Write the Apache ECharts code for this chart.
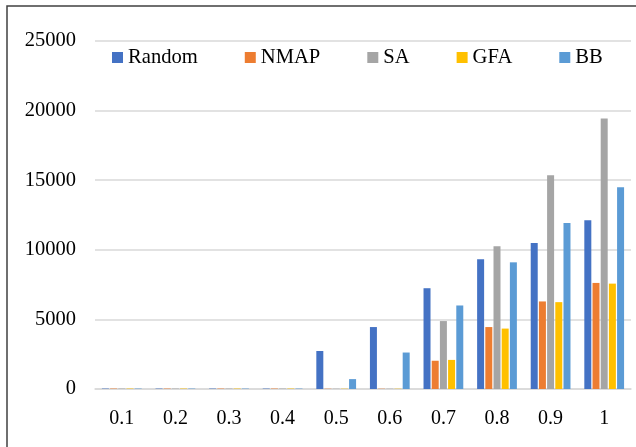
<!DOCTYPE html>
<html>
<head>
<meta charset="utf-8">
<script src="https://cdn.jsdelivr.net/npm/echarts@6/dist/echarts.min.js"></script>
<style>html,body{margin:0;padding:0;background:#fff;}#c{width:636px;height:447px;}</style>
</head>
<body>
<div id="c"></div>
<script>
var categories = ['0.1','0.2','0.3','0.4','0.5','0.6','0.7','0.8','0.9','1'];
var seriesNames = ['Random','NMAP','SA','GFA','BB'];
var randomVals = [30, 30, 30, 30, 2730, 4450, 7240, 9330, 10480, 12120];
var nmapVals   = [30, 30, 30, 30, 20, 20, 2030, 4450, 6290, 7620];
var saVals     = [30, 30, 30, 30, 20, 20, 4880, 10260, 15360, 19430];
var gfaVals    = [30, 30, 30, 30, 20, 20, 2090, 4340, 6240, 7570];
var bbVals     = [30, 30, 30, 30, 710, 2620, 6000, 9100, 11930, 14500];
var colors = ['#4472C4','#ED7D31','#A5A5A5','#FFC000','#5B9BD5'];
var yTicks = {min: 0, max: 25000, interval: 5000};

var font = "'Liberation Serif','Times New Roman',serif";
var allVals = [randomVals, nmapVals, saVals, gfaVals, bbVals];
var chart = echarts.init(document.getElementById('c'), null, {renderer: 'canvas'});
chart.setOption({
  animation: false,
  backgroundColor: '#fff',
  color: colors,
  textStyle: {fontFamily: font},
  graphic: [{
    type: 'polyline',
    shape: {points: [[7, 447], [7, 6], [636, 6]]},
    style: {stroke: '#404040', lineWidth: 1.5, fill: null}
  }],
  legend: {
    data: seriesNames,
    left: 107,
    top: 42,
    itemWidth: 11,
    itemHeight: 11,
    itemGap: 47,
    icon: 'rect',
    textStyle: {fontFamily: font, fontSize: 20.6, color: '#000'}
  },
  grid: {left: 95, right: 5, top: 41, bottom: 58},
  xAxis: {
    type: 'category',
    data: categories,
    axisLine: {lineStyle: {color: '#d9d9d9', width: 1.5}},
    axisTick: {show: false},
    axisLabel: {fontFamily: font, fontSize: 20, color: '#000', margin: 20}
  },
  yAxis: {
    type: 'value',
    min: yTicks.min, max: yTicks.max, interval: yTicks.interval,
    axisLine: {show: false},
    axisTick: {show: false},
    splitLine: {lineStyle: {color: '#d9d9d9', width: 1.5}},
    axisLabel: {fontFamily: font, fontSize: 20.5, color: '#000', margin: 19,
      formatter: function (v) { return String(v); }}
  },
  series: seriesNames.map(function (n, i) {
    return {
      name: n,
      type: 'bar',
      data: allVals[i],
      barWidth: 7,
      barGap: '17%',
      itemStyle: {color: colors[i]}
    };
  })
});
</script>
</body>
</html>
